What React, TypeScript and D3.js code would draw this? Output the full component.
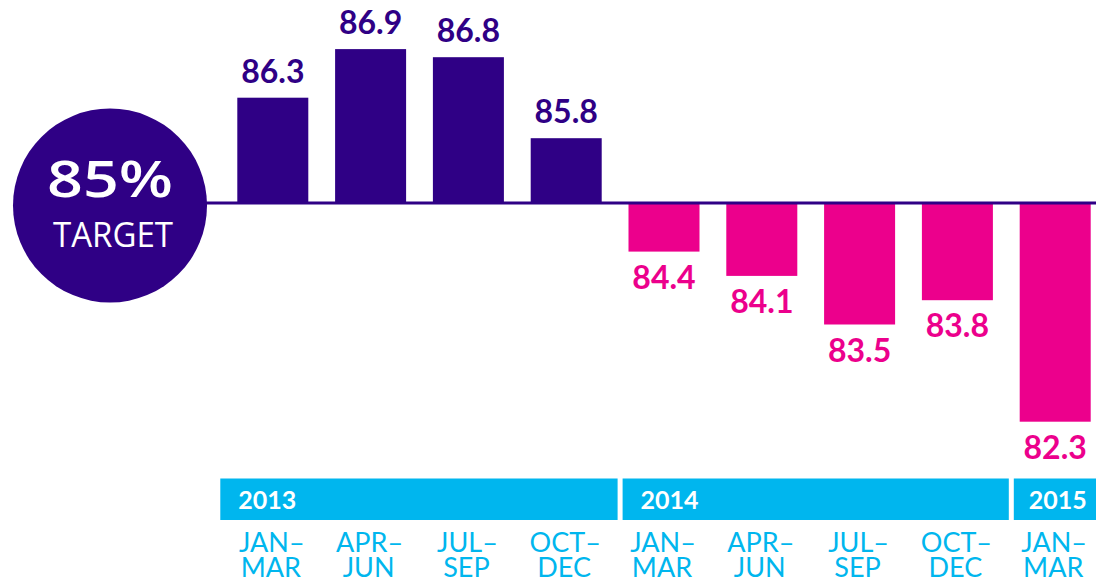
import React from "react";
import * as d3 from "d3";

const categories = ["2013Q1", "2013Q2", "2013Q3", "2013Q4", "2014Q1", "2014Q2", "2014Q3", "2014Q4", "2015Q1"];
const values = [86.3, 86.9, 86.8, 85.8, 84.4, 84.1, 83.5, 83.8, 82.3];
const quarterTop = ["JAN–", "APR–", "JUL–", "OCT–", "JAN–", "APR–", "JUL–", "OCT–", "JAN–"];
const quarterBottom = ["MAR", "JUN", "SEP", "DEC", "MAR", "JUN", "SEP", "DEC", "MAR"];
const years = ["2013", "2014", "2015"];
const yearCounts = [4, 4, 1];
const target = 85;

const W = 1096;
const H = 577;
const PURPLE = "#2F0085";
const PINK = "#EC008C";
const CYAN = "#00B6EE";
const FONT = "Lato, 'Open Sans', sans-serif";

export default function App() {
  const x = d3.scaleBand<string>().domain(categories).range([237.3, 1090.7]).paddingInner(0.274).paddingOuter(0);
  const y = d3.scaleLinear().domain([85, 82]).range([203, 446]);
  const bw = x.bandwidth();
  const step = x.step();
  const y0 = y(target);
  const half = (step - bw) / 2;

  let idx = 0;
  const groups = years.map((yr, i) => {
    const first = categories[idx];
    const last = categories[idx + yearCounts[i] - 1];
    idx += yearCounts[i];
    return { yr, first, last, isLast: i === years.length - 1, isFirst: i === 0 };
  });

  return (
    <svg width={W} height={H} style={{ position: "absolute", left: 0, top: 0 }} fontFamily={FONT}>
      <rect width={W} height={H} fill="#fff" />
      {values.map((v, i) => {
        const c = categories[i];
        const yv = y(v);
        const pos = v >= target;
        return (
          <g key={c}>
            <rect x={x(c)} y={Math.min(yv, y0)} width={bw} height={Math.abs(yv - y0)} fill={pos ? PURPLE : PINK} />
            <text
              x={(x(c) as number) + bw / 2}
              y={pos ? yv - 15 : yv + 37}
              textAnchor="middle"
              fontSize={32}
              fontWeight={700}
              fill={pos ? PURPLE : PINK}
            >
              {v.toFixed(1)}
            </text>
          </g>
        );
      })}
      <line x1={110} x2={W} y1={y0} y2={y0} stroke={PURPLE} strokeWidth={3} />
      <circle cx={110} cy={205.5} r={97} fill={PURPLE} />
      <text x={110} y={197} textAnchor="middle" fontSize={50} fontFamily="'Open Sans', Lato, sans-serif" fontWeight={600} fill="#fff" textLength={126} lengthAdjust="spacingAndGlyphs">
        85%
      </text>
      <text x={113} y={246.5} textAnchor="middle" fontSize={35} fontFamily="'Open Sans', Lato, sans-serif" fontWeight={500} fill="#fff" textLength={120} lengthAdjust="spacingAndGlyphs">
        TARGET
      </text>
      {groups.map((g) => {
        const start = g.isFirst ? (x(g.first) as number) - 17 : (x(g.first) as number) - half + 7.5;
        const end = g.isLast ? W : (x(g.last) as number) + bw + half + 2.5;
        return (
          <g key={g.yr}>
            <rect x={start} y={478.5} width={end - start} height={41.5} fill={CYAN} />
            <text x={start + (g.isLast ? 15 : 18)} y={508.5} fontSize={25} fontWeight={700} fill="#fff">
              {g.yr}
            </text>
          </g>
        );
      })}
      {categories.map((c, i) => (
        <g key={"q" + c}>
          <text x={(x(c) as number) + bw / 2 - 1} y={551.5} textAnchor="middle" fontSize={27} fill={CYAN}>
            {quarterTop[i]}
          </text>
          <text x={(x(c) as number) + bw / 2 - 2} y={577} textAnchor="middle" fontSize={27} fill={CYAN}>
            {quarterBottom[i]}
          </text>
        </g>
      ))}
    </svg>
  );
}
